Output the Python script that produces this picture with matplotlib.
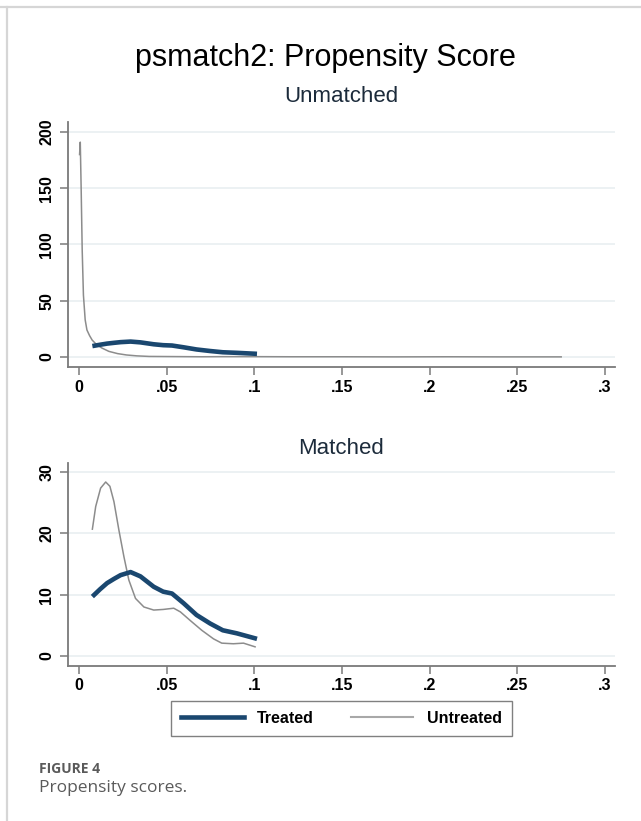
"""Summary
    Recreates the psmatch2 propensity score density plot (unmatched vs matched).
"""
import matplotlib
matplotlib.use('Agg')
import matplotlib.pyplot as plt
from matplotlib.lines import Line2D
import numpy as np

# treated density (same in both panels)
treated_x = [0.0076, 0.012, 0.016, 0.020, 0.0237, 0.0294, 0.035, 0.0426, 0.048,
             0.053, 0.0597, 0.067, 0.0748, 0.082, 0.090, 0.1015]
treated_y = [9.7, 10.9, 11.9, 12.6, 13.2, 13.7, 13.0, 11.3, 10.5,
             10.2, 8.6, 6.7, 5.3, 4.2, 3.7, 2.8]

# untreated density, unmatched sample
unm_x = [0.0003, 0.0007, 0.0012, 0.0018, 0.0025, 0.0035, 0.0045, 0.006, 0.0075,
         0.010, 0.013, 0.017, 0.022, 0.027, 0.033, 0.040, 0.050, 0.060, 0.070,
         0.080, 0.100, 0.120, 0.150, 0.180, 0.210, 0.240, 0.275]
unm_y = [180, 191, 150, 95, 55, 33, 24, 19, 15,
         11, 8, 5, 3, 1.8, 1.0, 0.5, 0.4, 0.3, 0.2,
         0.3, 0.3, 0.2, 0.2, 0.1, 0.2, 0.1, 0.1]

# untreated density, matched sample
mat_x = [0.0076, 0.0095, 0.0123, 0.0152, 0.0176, 0.0199, 0.0227, 0.0256, 0.0284,
         0.0322, 0.037, 0.0426, 0.048, 0.054, 0.0578, 0.0634, 0.070, 0.0767,
         0.0814, 0.088, 0.0938, 0.1004]
mat_y = [20.7, 24.4, 27.4, 28.4, 27.7, 25.2, 20.6, 16.2, 12.4,
         9.4, 8.0, 7.5, 7.6, 7.8, 7.2, 5.8, 4.2, 2.8,
         2.1, 2.0, 2.1, 1.5]

xticks = [0, 0.05, 0.1, 0.15, 0.2, 0.25, 0.3]
xlabels = ['0', '.05', '.1', '.15', '.2', '.25', '.3']
yticks_unm = [0, 50, 100, 150, 200]
yticks_mat = [0, 10, 20, 30]

W, H = 641, 821
navy = '#1a476f'
gray_line = '#8c8c8c'
axis_col = '#7a7a7a'
grid_col = '#eaf0f2'

plt.rcParams['font.family'] = ['Liberation Sans', 'DejaVu Sans']

fig = plt.figure(figsize=(W / 100, H / 100), dpi=100)


def fx(px):
    return px / W


def fy(py):
    return 1 - py / H


def style_axis(ax, yticks, ylim):
    ax.set_xlim(-0.0063, 0.3057)
    ax.set_ylim(*ylim)
    ax.set_xticks(xticks)
    ax.set_xticklabels(xlabels)
    ax.set_yticks(yticks)
    ax.set_yticklabels([str(t) for t in yticks], rotation=90, va='center')
    for s in ['top', 'right']:
        ax.spines[s].set_visible(False)
    for s in ['left', 'bottom']:
        ax.spines[s].set_color(axis_col)
        ax.spines[s].set_linewidth(1.3)
    ax.tick_params(axis='both', direction='out', length=6, width=1.1,
                   color=axis_col, labelsize=11.5, labelcolor='black')
    ax.tick_params(axis='x', pad=3)
    ax.tick_params(axis='y', pad=4)
    for lab in ax.get_xticklabels() + ax.get_yticklabels():
        lab.set_fontweight('bold')
    for t in yticks:
        ax.axhline(t, color=grid_col, lw=1.3, zorder=0)


ax1 = fig.add_axes([fx(68), fy(367), fx(547), (367 - 122) / H])
ax1.plot(unm_x, unm_y, color=gray_line, lw=1.1)
ax1.plot(treated_x, treated_y, color=navy, lw=3.3, solid_capstyle='butt')
style_axis(ax1, yticks_unm, (-8.9, 208.9))

ax2 = fig.add_axes([fx(68), fy(666), fx(547), (666 - 463) / H])
ax2.plot(mat_x, mat_y, color=gray_line, lw=1.1)
ax2.plot(treated_x, treated_y, color=navy, lw=3.3, solid_capstyle='butt')
style_axis(ax2, yticks_mat, (-1.63, 31.5))

fig.text(fx(325), fy(58), 'psmatch2: Propensity Score', ha='center', va='center',
         fontsize=22, color='black')
fig.text(fx(341), fy(97), 'Unmatched', ha='center', va='center',
         fontsize=16, color='#1c2b3b')
fig.text(fx(341), fy(448), 'Matched', ha='center', va='center',
         fontsize=16, color='#1c2b3b')

handles = [Line2D([], [], color=navy, lw=3.3),
           Line2D([], [], color='#a8a8a8', lw=1.5)]
leg = fig.legend(handles, ['Treated', 'Untreated'], loc='center',
                 bbox_to_anchor=(fx(341.5), fy(718.5)), ncol=2, frameon=True,
                 fancybox=False, handlelength=3.9, handletextpad=0.85,
                 columnspacing=2.3, borderpad=0.65,
                 prop={'size': 11.5, 'weight': 'bold'})
leg.get_frame().set_edgecolor('#606060')
leg.get_frame().set_linewidth(1.0)

# page frame and caption
fig.add_artist(Line2D([0, 1], [fy(7.5), fy(7.5)], color='#d6d6d6', lw=1.6))
fig.add_artist(Line2D([fx(6.5), fx(6.5)], [fy(7.5), 0], color='#d6d6d6', lw=1.6))
fig.text(fx(39), fy(769), 'FIGURE 4', ha='left', va='center', fontsize=10,
         fontweight='bold', color='#5a5a5a', family=['Open Sans', 'DejaVu Sans'])
fig.text(fx(39), fy(788), 'Propensity scores.', ha='left', va='center',
         fontsize=12.5, color='#5a5a5a', family=['Open Sans', 'DejaVu Sans'])

fig.savefig('out.png', dpi=100)
